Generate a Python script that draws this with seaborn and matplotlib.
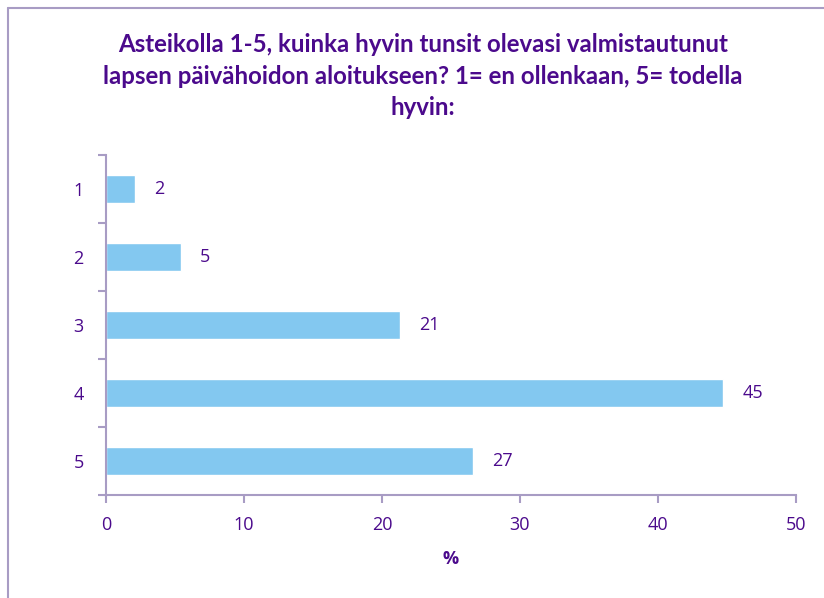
import matplotlib
matplotlib.use('Agg')
import matplotlib.pyplot as plt
import seaborn as sns
import pandas as pd
from matplotlib.lines import Line2D

# Data
categories = ['1', '2', '3', '4', '5']
values = [2.1, 5.4, 21.3, 44.7, 26.6]
labels = ['2', '5', '21', '45', '27']
title = ('Asteikolla 1-5, kuinka hyvin tunsit olevasi valmistautunut\n'
         'lapsen päivähoidon aloitukseen? 1= en ollenkaan, 5= todella\n'
         'hyvin:')

text_color = '#4B0A8C'
axis_color = '#A89CC4'
bar_color = '#83C8F0'
num_font = ['Open Sans', 'DejaVu Sans']

sns.set_style('white')
plt.rcParams['font.family'] = ['Lato', 'DejaVu Sans']

df = pd.DataFrame({'cat': categories, 'val': values})

fig = plt.figure(figsize=(8.24, 5.98), dpi=100)
ax = fig.add_axes([106 / 824, 1 - 495 / 598, 690 / 824, 340 / 598])

sns.barplot(data=df, x='val', y='cat', orient='h', color=bar_color,
            saturation=1, width=0.4, ax=ax)
ax.bar_label(ax.containers[0], labels=labels, padding=14,
             color=text_color, fontsize=13, family=num_font)

ax.set_xlim(0, 50)
ax.set_ylim(4.5, -0.5)
ax.set_xticks([0, 10, 20, 30, 40, 50])
ax.set_yticks([-0.5, 0.5, 1.5, 2.5, 3.5, 4.5], minor=False)
ax.set_yticklabels([])
ax.set_yticks(range(5), minor=True)
ax.set_yticklabels(categories, minor=True, family=num_font)
ax.set_xticklabels(['0', '10', '20', '30', '40', '50'], family=num_font)
ax.tick_params(axis='y', which='minor', left=True, length=0, pad=16,
               labelcolor=text_color, labelsize=13)
ax.tick_params(axis='y', which='major', left=True, length=6, width=1.5,
               color=axis_color, direction='out')
ax.tick_params(axis='x', bottom=True, length=6, width=1.5, color=axis_color,
               direction='out', labelcolor=text_color, labelsize=13, pad=9)

for s in ['top', 'right']:
    ax.spines[s].set_visible(False)
for s in ['left', 'bottom']:
    ax.spines[s].set_color(axis_color)
    ax.spines[s].set_linewidth(1.5)

ax.set_ylabel('')
ax.set_xlabel('%', color=text_color, fontsize=13, fontweight='bold',
              family=num_font, labelpad=12)

fig.text(0.513, 1 - 33 / 598, title, ha='center', va='top', color=text_color,
         fontsize=17.3, fontweight='bold', linespacing=1.45)

# chart frame (left and top edges visible)
fig.add_artist(Line2D([8 / 824, 8 / 824], [0, 1 - 8 / 598],
                      transform=fig.transFigure, color=axis_color, lw=1.5))
fig.add_artist(Line2D([8 / 824, 1], [1 - 8 / 598, 1 - 8 / 598],
                      transform=fig.transFigure, color=axis_color, lw=1.5))

fig.savefig('out.png', dpi=100)
